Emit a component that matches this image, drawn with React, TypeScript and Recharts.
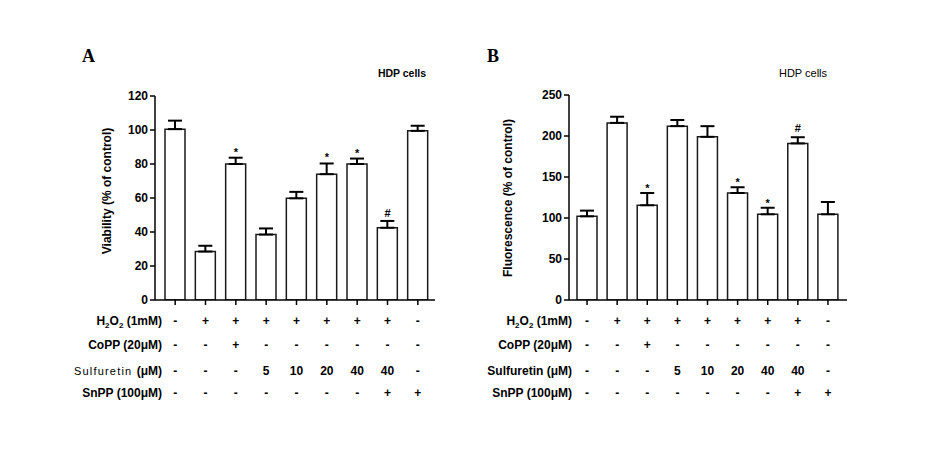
import { BarChart, Bar, XAxis, YAxis, ErrorBar, ReferenceDot } from 'recharts';

// treatment groups (one bar per group)
const groups = ['Control', 'H2O2', 'H2O2+CoPP', 'S5', 'S10', 'S20', 'S40', 'S40+SnPP', 'SnPP'];

// condition table under the x axis
const h2o2Row = ['-', '+', '+', '+', '+', '+', '+', '+', '-'];
const coppRow = ['-', '-', '+', '-', '-', '-', '-', '-', '-'];
const sulfuretinRow = ['-', '-', '-', '5', '10', '20', '40', '40', '-'];
const snppRow = ['-', '-', '-', '-', '-', '-', '-', '+', '+'];

// A: viability
const viability = [100.5, 28.5, 80, 38.5, 59.8, 74, 80, 42.5, 99.5];
const viabilityErr = [5, 3.4, 3.7, 3.6, 3.8, 6.3, 3.2, 4, 3];
const viabilityMarks = ['', '', '*', '', '', '*', '*', '#', ''];
const viabilityTicks = [0, 20, 40, 60, 80, 100, 120];

// B: fluorescence
const fluorescence = [102, 216, 115.5, 212, 199, 130.5, 104.5, 191, 104.5];
const fluorescenceErr = [7, 7.5, 15, 7.5, 13, 7, 8, 7.5, 15];
const fluorescenceMarks = ['', '', '*', '', '', '*', '*', '#', ''];
const fluorescenceTicks = [0, 50, 100, 150, 200, 250];

const FONT = '"Liberation Sans", Arial, sans-serif';
const ROW_Y = [321, 345, 370.5, 392.5];
const rows = [h2o2Row, coppRow, sulfuretinRow, snppRow];

const build = (vals: number[], errs: number[]) =>
  groups.map((g, i) => ({ name: g, value: vals[i], err: [0, errs[i]] }));

function RowLabels({ x, panel }: { x: number; panel: 'A' | 'B' }) {
  const st = { fontFamily: FONT, fontSize: 12, fontWeight: 'bold' as const, fill: '#000' };
  return (
    <g>
      <text x={x} y={ROW_Y[0]} dy="0.35em" textAnchor="end" {...st}>
        H<tspan fontSize={8} dy={3}>2</tspan>
        <tspan dy={-3}>O</tspan>
        <tspan fontSize={8} dy={3}>2</tspan>
        <tspan dy={-3}> (1mM)</tspan>
      </text>
      <text x={x} y={ROW_Y[1]} dy="0.35em" textAnchor="end" {...st}>CoPP (20μM)</text>
      {panel === 'A' ? (
        <text x={x} y={ROW_Y[2]} dy="0.35em" textAnchor="end" {...st}>
          <tspan fontWeight="normal" fontSize={11} letterSpacing={1.2}>Sulfuretin </tspan>
          <tspan> (μM)</tspan>
        </text>
      ) : (
        <text x={x} y={ROW_Y[2]} dy="0.35em" textAnchor="end" {...st}>Sulfuretin (μM)</text>
      )}
      <text x={x} y={ROW_Y[3]} dy="0.35em" textAnchor="end" {...st}>SnPP (100μM)</text>
    </g>
  );
}

function makeTick(labelX: number, panel: 'A' | 'B') {
  return (props: any) => {
    const idx = props.index ?? props.payload?.index ?? 0;
    return (
      <g>
        {idx === 0 && <RowLabels x={labelX} panel={panel} />}
        {rows.map((r, k) => (
          <text
            key={k}
            x={props.x}
            y={ROW_Y[k]}
            dy="0.35em"
            textAnchor="middle"
            fontFamily={FONT}
            fontSize={12}
            fontWeight="bold"
            fill="#000"
          >
            {r[idx]}
          </text>
        ))}
      </g>
    );
  };
}

function Panel({
  data, marks, ticks, max, yLabel, labelPos, margin, width, left, padding, rowLabelX, panel, starOffset, hashOffset,
}: any) {
  return (
    <div style={{ position: 'absolute', left, top: 0 }}>
      <BarChart width={width} height={469} data={data} margin={margin} barSize={20}>
        <XAxis
          dataKey="name"
          interval={0}
          height={100}
          padding={padding}
          axisLine={{ stroke: '#000', strokeWidth: 1.5 }}
          tickLine={{ stroke: '#000', strokeWidth: 1.5 }}
          tickSize={5}
          tick={makeTick(rowLabelX, panel)}
        />
        <YAxis
          width={40}
          domain={[0, max]}
          ticks={ticks}
          interval={0}
          allowDataOverflow
          axisLine={{ stroke: '#000', strokeWidth: 1.5 }}
          tickLine={{ stroke: '#000', strokeWidth: 1.5 }}
          tickSize={5}
          tickMargin={2}
          tick={{ fill: '#000', fontSize: 12, fontWeight: 'bold', fontFamily: FONT }}
          label={{
            content: () => (
              <text
                transform={`translate(${labelPos[0]},${labelPos[1]}) rotate(-90)`}
                textAnchor="middle"
                dy="0.35em"
                fontFamily={FONT}
                fontSize={12}
                fontWeight="bold"
                fill="#000"
              >
                {yLabel}
              </text>
            ),
          }}
        />
        <Bar dataKey="value" fill="#fff" stroke="#1a1a1a" strokeWidth={1.5} isAnimationActive={false}>
          <ErrorBar dataKey="err" direction="y" width={7} stroke="#000" strokeWidth={2} isAnimationActive={false} />
        </Bar>
        {data.map((d: any, i: number) =>
          marks[i] ? (
            <ReferenceDot
              key={i}
              x={d.name}
              y={d.value + d.err[1]}
              r={0}
              fill="none"
              stroke="none"
              label={{
                value: marks[i],
                position: 'top',
                offset: marks[i] === '#' ? hashOffset : starOffset,
                fontSize: 11,
                fontWeight: 'bold',
                fontFamily: FONT,
                fill: '#000',
              }}
            />
          ) : null
        )}
      </BarChart>
    </div>
  );
}

export default function App() {
  const dataA = build(viability, viabilityErr);
  const dataB = build(fluorescence, fluorescenceErr);
  return (
    <div style={{ position: 'absolute', left: 0, top: 0, width: 931, height: 469, background: '#fff' }}>
      <Panel
        data={dataA}
        marks={viabilityMarks}
        ticks={viabilityTicks}
        max={120}
        yLabel="Viability (% of control)"
        labelPos={[107, 191]}
        margin={{ top: 96, right: 25, bottom: 69, left: 115 }}
        width={460}
        left={0}
        padding={{ left: 5, right: 2 }}
        rowLabelX={162}
        panel="A"
        starOffset={2}
        hashOffset={4}
      />
      <Panel
        data={dataB}
        marks={fluorescenceMarks}
        ticks={fluorescenceTicks}
        max={250}
        yLabel="Fluorescence (% of control)"
        labelPos={[508 - 465, 198]}
        margin={{ top: 95, right: 84, bottom: 69, left: 64 }}
        width={466}
        left={465}
        padding={{ left: 3, right: 4 }}
        rowLabelX={572 - 465}
        panel="B"
        starOffset={1}
        hashOffset={5}
      />
      <svg width={931} height={469} style={{ position: 'absolute', left: 0, top: 0, pointerEvents: 'none' }}>
        <text x={82} y={62} fontFamily='"Liberation Serif", "Times New Roman", serif' fontSize={18} fontWeight="bold">A</text>
        <text x={487} y={62} fontFamily='"Liberation Serif", "Times New Roman", serif' fontSize={18} fontWeight="bold">B</text>
        <text x={402} y={77} textAnchor="middle" fontFamily={FONT} fontSize={10.5} fontWeight="bold">HDP cells</text>
        <text x={803} y={77} textAnchor="middle" fontFamily={FONT} fontSize={11}>HDP cells</text>
      </svg>
    </div>
  );
}
